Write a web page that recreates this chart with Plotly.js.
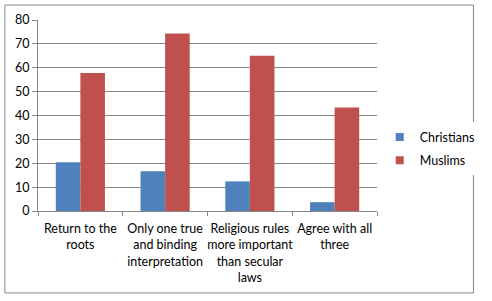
<!DOCTYPE html>
<html><head><meta charset="utf-8">
<script src="https://cdn.plot.ly/plotly-3.0.1.min.js"></script>
<style>body{margin:0;background:#fff}#c{width:492px;height:301px}</style>
</head><body><div id="c"></div>
<script>
const categories = ["Return to the<br>roots", "Only one true<br>and binding<br>interpretation", "Religious rules<br>more important<br>than secular<br>laws", "Agree with all<br>three"];
const christians = [20.4, 16.7, 12.4, 3.7];
const muslims = [57.8, 74.3, 65.0, 43.4];
const yTicks = [0, 10, 20, 30, 40, 50, 60, 70, 80];
const seriesNames = ["Christians", "Muslims"];
const seriesColors = ["#4F81BD", "#C0504D"];

const font = {family: "Lato, Open Sans, sans-serif", size: 12.5, color: "#000"};
const data = [
  {type: "bar", name: seriesNames[0], x: categories, y: christians, marker: {color: seriesColors[0]}, showlegend: false},
  {type: "bar", name: seriesNames[1], x: categories, y: muslims, marker: {color: seriesColors[1]}, showlegend: false}
];
seriesNames.forEach((n, i) => data.push({
  type: "scatter", mode: "markers", name: n, x: [null], y: [null], legendgroup: "g" + i,
  marker: {symbol: "square", size: 8, color: seriesColors[i], line: {width: 0}}
}));
const layout = {
  width: 492, height: 301,
  margin: {l: 38, r: 106, t: 20, b: 90},
  barmode: "group", bargap: 0.42, bargroupgap: 0,
  font: font,
  paper_bgcolor: "#fff", plot_bgcolor: "#fff",
  showlegend: true,
  legend: {x: 1.008, y: 0.325, xanchor: "left", yanchor: "middle", font: {family: font.family, size: 12.5}, traceorder: "grouped", tracegroupgap: 4, itemwidth: 30},
  xaxis: {type: "category", tickangle: 0, showline: true, linecolor: "#868686", linewidth: 1, ticks: "outside", tickson: "boundaries", ticklen: 4, tickcolor: "#868686", showgrid: false, tickfont: font, fixedrange: true, automargin: false, ticklabelstandoff: 6},
  yaxis: {range: [0, 80], tickvals: yTicks, showline: true, linecolor: "#868686", ticks: "outside", ticklen: 5, tickcolor: "#868686", gridcolor: "#868686", gridwidth: 1, zeroline: false, tickfont: {family: font.family, size: 12.5}, fixedrange: true},
  shapes: [{type: "rect", xref: "paper", yref: "paper", x0: -0.0977, x1: 1.2845, y0: -0.429, y1: 1.0785, line: {color: "#888", width: 1}}]
};
Plotly.newPlot("c", data, layout, {displayModeBar: false, staticPlot: true});
</script></body></html>
